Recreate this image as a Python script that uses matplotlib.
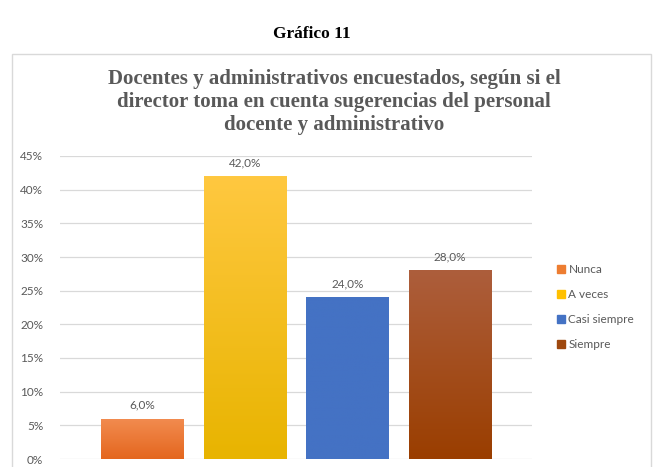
import matplotlib
matplotlib.use("Agg")
import matplotlib.pyplot as plt
import numpy as np
from matplotlib.patches import Rectangle
from matplotlib.colors import LinearSegmentedColormap
from matplotlib.lines import Line2D

categories = ["Nunca", "A veces", "Casi siempre", "Siempre"]
values = [0.06, 0.42, 0.24, 0.28]
labels = ["6,0%", "42,0%", "24,0%", "28,0%"]
yticks = [0, 0.05, 0.10, 0.15, 0.20, 0.25, 0.30, 0.35, 0.40, 0.45]
ytick_labels = ["0%", "5%", "10%", "15%", "20%", "25%", "30%", "35%", "40%", "45%"]

colors_top = ["#F28C50", "#FFC840", "#4472C4", "#AD5E3C"]
colors_bot = ["#E4661E", "#E8B400", "#4472C4", "#9A3E00"]
colors_leg = ["#ED7D31", "#FFC000", "#4472C4", "#9E480E"]

fig = plt.figure(figsize=(6.54, 4.67), dpi=100)
fig.patch.set_facecolor("white")

# chart frame
fig.add_artist(Rectangle((12/654, -0.05), (651-12)/654, 1-54/467+0.05,
                         transform=fig.transFigure, fill=False,
                         edgecolor="#D9D9D9", linewidth=1.0))

fig.text(312/654, 1-34/467, "Gráfico 11", ha="center", va="center",
         fontsize=12.5, fontweight="bold", family="Liberation Serif", color="black")

fig.text(334/654, 1-102/467,
         "Docentes y administrativos encuestados, según si el\n"
         "director toma en cuenta sugerencias del personal\n"
         "docente y administrativo",
         ha="center", va="center", fontsize=15, fontweight="bold",
         family="Liberation Serif", color="#595959", linespacing=1.2)

ax = fig.add_axes([60/654, 1-459/467, (532-60)/654, (459-156)/467])
x = np.arange(len(categories))
bars = ax.bar(x, values, width=0.8, color=colors_leg, zorder=2)
for i, b in enumerate(bars):
    cmap = LinearSegmentedColormap.from_list("g", [colors_bot[i], colors_top[i]])
    grad = np.linspace(0, 1, 256).reshape(-1, 1)
    im = ax.imshow(grad, cmap=cmap, origin="lower", aspect="auto",
                   extent=[b.get_x(), b.get_x()+b.get_width(), 0, b.get_height()],
                   zorder=3)
    im.set_clip_path(b)
    ax.text(b.get_x()+b.get_width()/2, values[i] + 0.012, labels[i],
            ha="center", va="bottom", fontsize=8.5, color="#595959", family="Lato")

ax.set_xlim(-0.8, 3.8)
ax.set_ylim(0, 0.45)
ax.set_yticks(yticks)
ax.set_yticklabels(ytick_labels, fontsize=8.5, color="#595959", family="Lato")
ax.set_xticks([])
ax.tick_params(axis="y", length=0, pad=12)
ax.grid(axis="y", color="#D9D9D9", linewidth=0.9, zorder=0)
ax.set_axisbelow(True)
for s in ax.spines.values():
    s.set_visible(False)

handles = [Line2D([], [], marker="s", linestyle="none", markersize=6,
                  markerfacecolor=c, markeredgecolor=c) for c in colors_leg]
leg = fig.legend(handles, categories, loc="center left",
                 bbox_to_anchor=(546/654, 1-307/467), frameon=False,
                 prop={"family": "Lato", "size": 8.5}, labelcolor="#595959",
                 handlelength=0.7, handletextpad=0.3, labelspacing=1.2)

fig.savefig("out.png", dpi=100, facecolor="white")
